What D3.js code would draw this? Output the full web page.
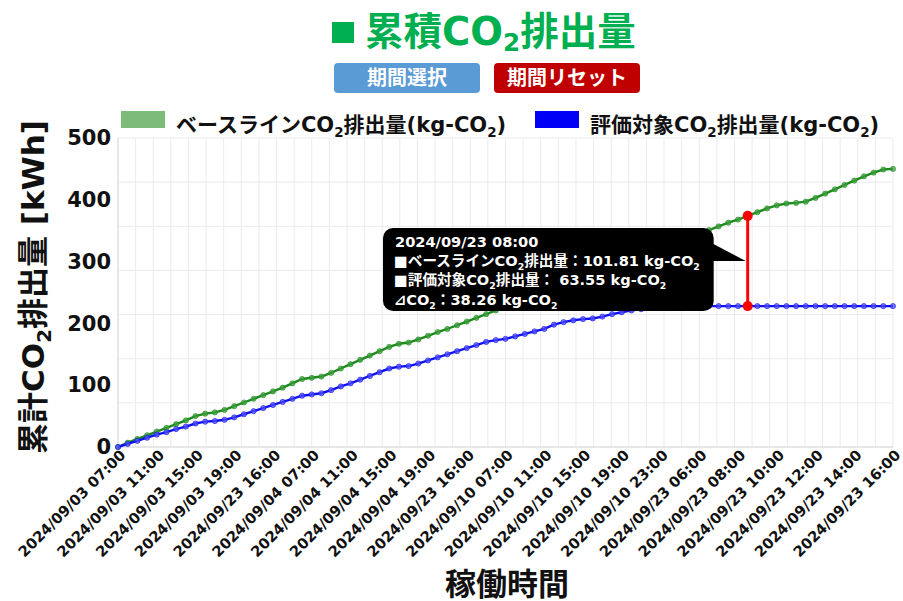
<!DOCTYPE html>
<html>
<head>
<meta charset="utf-8">
<script src="https://cdn.jsdelivr.net/npm/d3@7"></script>
<style>
  body { margin: 0; background: #fff; }
  svg { display: block; }
</style>
</head>
<body>
<svg id="chart" width="903" height="601"></svg>
<script>
// x axis labels that are shown (one every 4 points)
var tickLabels = [
  "2024/09/03 07:00", "2024/09/03 11:00", "2024/09/03 15:00", "2024/09/03 19:00",
  "2024/09/23 16:00", "2024/09/04 07:00", "2024/09/04 11:00", "2024/09/04 15:00",
  "2024/09/04 19:00", "2024/09/23 16:00", "2024/09/10 07:00", "2024/09/10 11:00",
  "2024/09/10 15:00", "2024/09/10 19:00", "2024/09/10 23:00", "2024/09/23 06:00",
  "2024/09/23 08:00", "2024/09/23 10:00", "2024/09/23 12:00", "2024/09/23 14:00",
  "2024/09/23 16:00"
];
var labelStep = 4;

// cumulative CO2, baseline
var baseline = [
  0, 7, 13, 19, 25, 31, 37, 43, 50, 54,
  56, 60, 66, 72, 78, 84, 90, 96, 103, 110,
  112, 114, 120, 127, 134, 141, 148, 155, 162, 167,
  169, 174, 180, 186, 191, 197, 203, 209, 215, 221,
  227, 233, 239, 245, 251, 257, 263, 269, 274, 277,
  280, 286, 293, 300, 307, 314, 320, 326, 333, 340,
  345, 351, 357, 363, 368, 374, 380, 386, 391, 394,
  395, 397, 403, 410, 417, 424, 431, 438, 444, 449,
  450
];

// cumulative CO2, evaluated target
var target = [
  0, 5, 10, 15, 20, 24, 29, 33, 38, 41,
  42, 44, 48, 53, 58, 63, 68, 73, 78, 83,
  85, 87, 92, 98, 103, 109, 115, 121, 127, 130,
  131, 135, 140, 145, 150, 155, 160, 165, 170, 173,
  175, 179, 183, 187, 191, 198, 202, 205, 207, 208,
  211, 215, 218, 221, 223, 225, 226, 227, 228, 228,
  228, 228, 228, 228, 228, 228, 228, 228, 228, 228,
  228, 228, 228, 228, 228, 228, 228, 228, 228, 228,
  228
];

var yTicks = [0, 100, 200, 300, 400, 500];
var hoverIndex = 65;
var tooltipLines = [
  "2024/09/23 08:00",
  "■ベースラインCO₂排出量：101.81 kg-CO₂",
  "■評価対象CO₂排出量： 63.55 kg-CO₂",
  "⊿CO₂：38.26 kg-CO₂"
];

var seriesInfo = [
  { name: "ベースラインCO₂排出量(kg-CO₂)", values: baseline, line: "#1e8a1e", dot: "rgba(60,160,60,0.75)", key: "#7dbb79", lx: 121 },
  { name: "評価対象CO₂排出量(kg-CO₂)", values: target, line: "#1010f0", dot: "rgba(80,80,255,0.75)", key: "#0000f5", lx: 535 }
];

var FONT = "'DejaVu Sans', 'Noto Sans CJK JP', sans-serif";

var svg = d3.select("#chart");
var plot = { left: 118, right: 893, top: 138, bottom: 447 };

// writes text with "₂" drawn as a lowered small 2
function rich(t, str, fs, shift) {
  var parts = str.split("₂");
  var down = false;
  parts.forEach(function (p, i) {
    var ts = t.append("tspan").text(p);
    if (down) { ts.attr("dy", -shift); down = false; }
    if (i < parts.length - 1) {
      t.append("tspan").attr("dy", shift).attr("font-size", fs * 0.64).text("2");
      down = true;
    }
  });
  return t;
}

var n = baseline.length;
var x = d3.scaleLinear().domain([0, n - 1]).range([plot.left, plot.right]);
var y = d3.scaleLinear().domain([0, 500]).range([plot.bottom, plot.top]);

// grid
var gridX = d3.scaleLinear().domain([0, 44]).range([plot.left, plot.right]);
var gridY = d3.scaleLinear().domain([0, 7]).range([plot.bottom, plot.top]);
var grid = svg.append("g").attr("class", "grid");
grid.selectAll("line.v").data(d3.range(0, 45)).enter().append("line")
  .attr("class", "v")
  .attr("x1", function (d) { return gridX(d); }).attr("x2", function (d) { return gridX(d); })
  .attr("y1", plot.top).attr("y2", plot.bottom)
  .attr("stroke", "#ebebeb").attr("stroke-width", 1);
grid.selectAll("line.h").data(d3.range(0, 8)).enter().append("line")
  .attr("class", "h")
  .attr("x1", plot.left).attr("x2", plot.right)
  .attr("y1", function (d) { return gridY(d); }).attr("y2", function (d) { return gridY(d); })
  .attr("stroke", "#ebebeb").attr("stroke-width", 1);
svg.append("line").attr("x1", plot.left).attr("x2", plot.right)
  .attr("y1", plot.bottom).attr("y2", plot.bottom).attr("stroke", "#d8d8d8");
svg.append("line").attr("x1", plot.left).attr("x2", plot.left)
  .attr("y1", plot.top).attr("y2", plot.bottom).attr("stroke", "#d8d8d8");

// y axis
var yAxis = d3.axisLeft(y).tickValues(yTicks).tickSize(0).tickPadding(6);
var yg = svg.append("g").attr("transform", "translate(" + (plot.left - 1) + ",0)").call(yAxis);
yg.select(".domain").remove();
yg.selectAll("text").attr("font-family", FONT).attr("font-weight", "bold")
  .attr("font-size", 21).attr("fill", "#111");

// x axis
var xAxis = d3.axisBottom(x)
  .tickValues(d3.range(0, n, labelStep))
  .tickFormat(function (d) { return tickLabels[d / labelStep]; })
  .tickSize(0).tickPadding(0);
var xg = svg.append("g").attr("transform", "translate(0," + plot.bottom + ")").call(xAxis);
xg.select(".domain").remove();
xg.selectAll("text")
  .attr("font-family", FONT).attr("font-weight", "bold").attr("font-size", 14.7).attr("fill", "#111")
  .attr("text-anchor", "end").attr("x", 0).attr("y", 0).attr("dy", 0)
  .attr("transform", "translate(8,9) rotate(-45)");

// series
var line = d3.line().x(function (d, i) { return x(i); }).y(function (d) { return y(d); });
seriesInfo.forEach(function (s) {
  var g = svg.append("g");
  g.append("path").datum(s.values).attr("d", line)
    .attr("fill", "none").attr("stroke", s.line).attr("stroke-width", 2.4);
  g.selectAll("circle").data(s.values).enter().append("circle")
    .attr("cx", function (d, i) { return x(i); })
    .attr("cy", function (d) { return y(d); })
    .attr("r", 2.6).attr("fill", s.dot).attr("stroke", s.line).attr("stroke-width", 0.6);
});

// hover marker
var hx = x(hoverIndex);
svg.append("line").attr("x1", hx).attr("x2", hx)
  .attr("y1", y(baseline[hoverIndex])).attr("y2", y(target[hoverIndex]))
  .attr("stroke", "#ff0000").attr("stroke-width", 3);
[baseline[hoverIndex], target[hoverIndex]].forEach(function (v) {
  svg.append("circle").attr("cx", hx).attr("cy", y(v)).attr("r", 5).attr("fill", "#ff0000");
});

// tooltip
var tip = svg.append("g");
var tipR = hx - 34, tipL = 383, tipT = 228, tipB = 311, tipY = 261;
tip.append("rect").attr("x", tipL).attr("y", tipT).attr("width", tipR - tipL).attr("height", tipB - tipT)
  .attr("rx", 10).attr("fill", "#000");
tip.append("path")
  .attr("d", "M" + (tipR - 4) + "," + (tipT + 14) + "L" + (hx - 2) + "," + tipY + "L" + (tipR - 4) + "," + tipY + "Z")
  .attr("fill", "#000");
tooltipLines.forEach(function (l, i) {
  var t = tip.append("text").attr("x", i === 0 ? 395 : 394).attr("y", 247 + i * 19.2)
    .attr("font-family", FONT).attr("font-weight", "bold").attr("font-size", 14.6).attr("fill", "#fff");
  rich(t, l, 14.6, 4);
});

// legend
seriesInfo.forEach(function (s) {
  svg.append("rect").attr("x", s.lx).attr("y", 111).attr("width", 44).attr("height", 17).attr("fill", s.key);
  var t = svg.append("text").attr("x", s.lx + 55).attr("y", 132)
    .attr("font-family", FONT).attr("font-weight", "bold").attr("font-size", 21).attr("fill", "#111");
  rich(t, s.name, 21, 5);
});

// title
svg.append("rect").attr("x", 332).attr("y", 22).attr("width", 22).attr("height", 21).attr("fill", "#00b050");
var title = svg.append("text").attr("x", 365).attr("y", 45)
  .attr("font-family", FONT).attr("font-weight", "bold").attr("font-size", 38.5).attr("fill", "#00b050");
rich(title, "累積CO₂排出量", 38.5, 6);

// buttons
var buttons = [
  { label: "期間選択", x: 334, fill: "#5b9bd5" },
  { label: "期間リセット", x: 494, fill: "#c00000" }
];
buttons.forEach(function (b) {
  svg.append("rect").attr("x", b.x).attr("y", 63).attr("width", 146).attr("height", 30)
    .attr("rx", 4).attr("fill", b.fill);
  svg.append("text").attr("x", b.x + 73).attr("y", 85).attr("text-anchor", "middle")
    .attr("font-family", FONT).attr("font-weight", "bold").attr("font-size", 20).attr("fill", "#fff")
    .text(b.label);
});

// axis titles
var yt = svg.append("text").attr("transform", "translate(44,287) rotate(-90)").attr("text-anchor", "middle")
  .attr("font-family", FONT).attr("font-weight", "bold").attr("font-size", 31).attr("fill", "#111");
rich(yt, "累計CO₂排出量 [kWh]", 31, 7);
svg.append("text").attr("x", 507).attr("y", 595).attr("text-anchor", "middle")
  .attr("font-family", FONT).attr("font-weight", "bold").attr("font-size", 31).attr("fill", "#111")
  .text("稼働時間");
</script>
</body>
</html>
